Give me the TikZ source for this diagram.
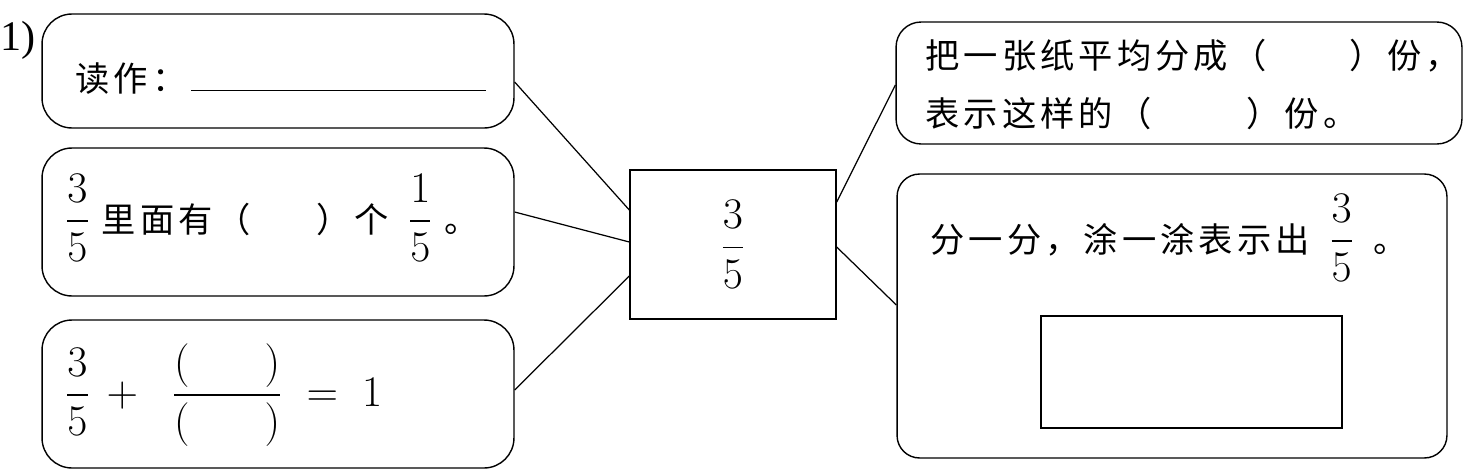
\documentclass[tikz,border=0pt]{standalone}
\usepackage{amsmath}
\usepackage{fontspec}
\setmainfont{Liberation Serif}
\newfontfamily\cjk[Scale=0.78,LetterSpace=12]{Noto Sans CJK SC}
\tikzset{
  card/.style={draw, rounded corners=0.6cm, line width=0.8pt, inner sep=0pt},
  plainbox/.style={draw, line width=0.8pt, inner sep=0pt},
  words/.style={anchor=base west, inner sep=0pt, font=\fontsize{25}{30}\selectfont},
  link/.style={line width=0.7pt}
}
\begin{document}
\begin{tikzpicture}[x=0.02cm, y=-0.02cm]
        \useasboundingbox (0,0) rectangle (1464,474);
        % the question number
        \node[words, font=\fontsize{24}{28}\selectfont] (qnum) at (0,50) {1)};
        % the three boxes on the left
        \node[card, minimum width=9.44cm, minimum height=2.28cm] (read) at (278,71) {};
        \node[words] (read-text) at (75,91) {{\cjk 读作：}\hspace{0.1cm}\rule{5.9cm}{0.7pt}};
        \node[card, minimum width=9.44cm, minimum height=2.96cm] (units) at (278,222) {};
        \node[words] (units-text) at (65,232) {$\dfrac{3}{5}$\;{\cjk 里面有（\hspace{1.3cm}）个}\;\,$\dfrac{1}{5}$\;{\cjk 。}};
        \node[card, minimum width=9.44cm, minimum height=2.96cm] (sum) at (278,394) {};
        \node[words] (sum-text) at (65,406) {$\dfrac{3}{5}\,+\;\;\dfrac{(\hspace{1.5cm})}{(\hspace{1.5cm})}\;=\;1$};
        % the fraction in the middle
        \node[plainbox, minimum width=4.12cm, minimum height=2.98cm, font=\fontsize{25}{30}\selectfont] (frac) at (733,244.5) {$\dfrac{3}{5}$};
        % the two boxes on the right
        \node[card, rounded corners=0.5cm, minimum width=11.32cm, minimum height=2.44cm] (paper) at (1179,83) {};
        \node[words] (paper-one) at (925,68) {\cjk 把一张纸平均分成（\hspace{1.65cm}）份，};
        \node[words] (paper-two) at (925,126) {\cjk 表示这样的（\hspace{1.9cm}）份。};
        \node[card, rounded corners=0.45cm, minimum width=11cm, minimum height=5.68cm] (shade) at (1172,316) {};
        \node[words] (shade-text) at (930,252) {{\cjk 分一分，涂一涂表示出}\;\,$\dfrac{3}{5}$\;\,{\cjk 。}};
        \node[plainbox, minimum width=6.02cm, minimum height=2.24cm] (strip) at (1191.5,372) {};

        % lines to the middle box
        \draw[link] ([yshift=-0.22cm]read.east) -- ([yshift=0.69cm]frac.west);
        \draw[link] ([yshift=0.2cm]units.east) -- ([yshift=0.05cm]frac.west);
        \draw[link] ([yshift=0.08cm]sum.east) -- ([yshift=-0.63cm]frac.west);
        \draw[link] ([yshift=0.85cm]frac.east) -- ([yshift=-0.04cm]paper.west);
        \draw[link] ([yshift=-0.05cm]frac.east) -- ([yshift=0.22cm]shade.west);
    \end{tikzpicture}
\end{document}
